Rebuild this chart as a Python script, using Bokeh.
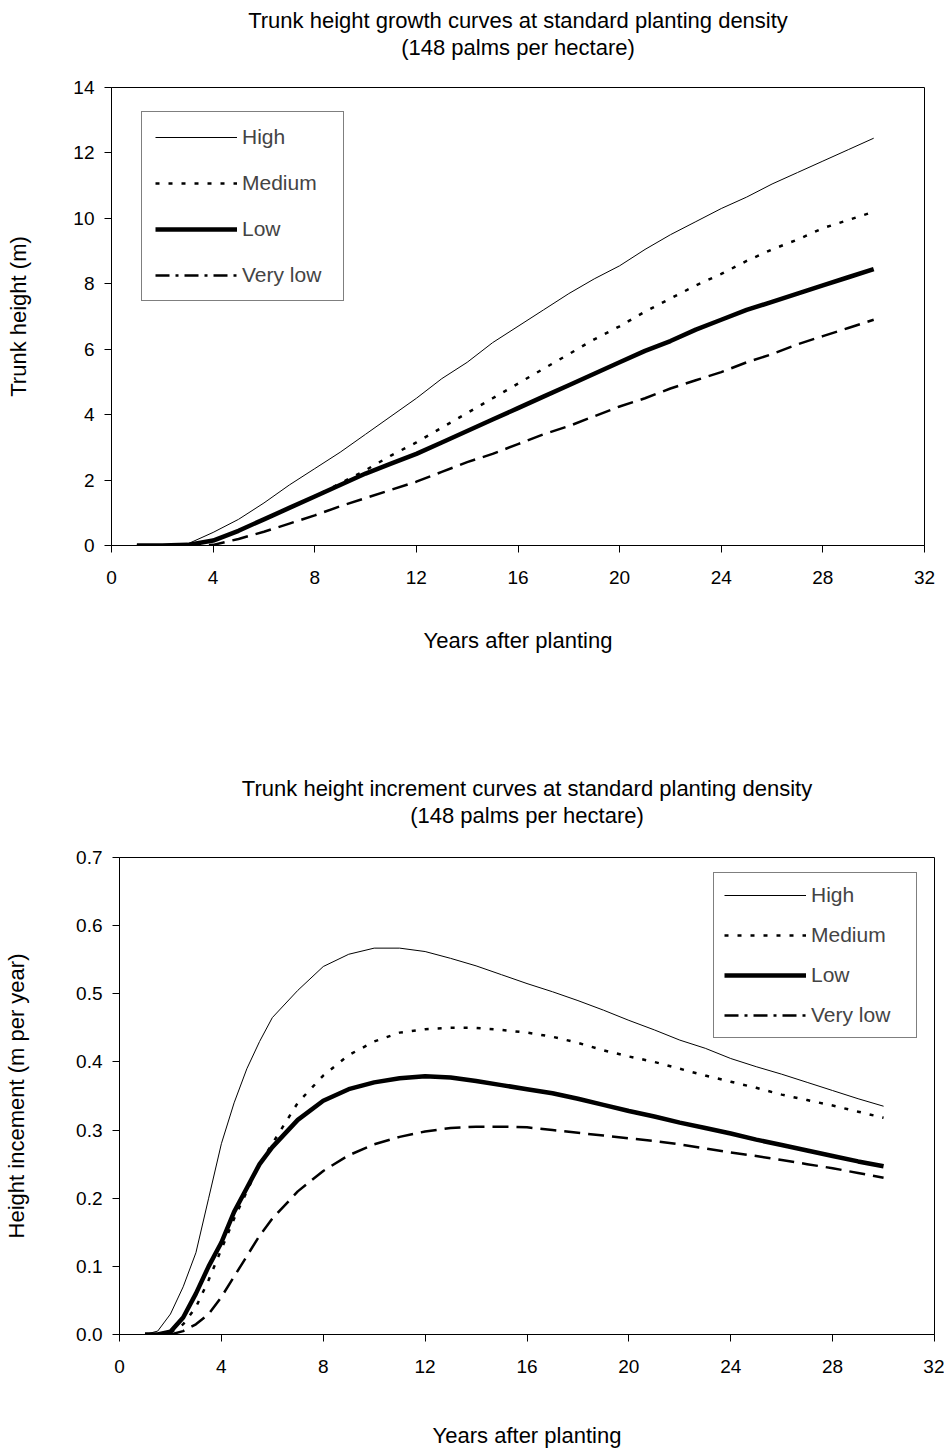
from bokeh.plotting import figure
from bokeh.models import Title, Legend, LegendItem, Range1d, FixedTicker, NumeralTickFormatter
from bokeh.embed import file_html
from bokeh.resources import INLINE

# ---------------- data: trunk height (m) ----------------
years_h = list(range(1, 31))
height_high = [0, 0, 0.05, 0.4, 0.8, 1.3, 1.85, 2.35, 2.85, 3.4, 3.95, 4.5, 5.1, 5.6, 6.2, 6.7,
               7.2, 7.7, 8.15, 8.55, 9.05, 9.5, 9.9, 10.3, 10.65, 11.05, 11.4, 11.75, 12.1, 12.45]
height_medium = [0, 0, 0.02, 0.15, 0.45, 0.8, 1.15, 1.5, 1.9, 2.3, 2.75, 3.15, 3.6, 4.05, 4.5, 4.95,
                 5.4, 5.85, 6.3, 6.7, 7.15, 7.55, 7.95, 8.3, 8.7, 9.05, 9.35, 9.7, 9.95, 10.2]
height_low = [0, 0, 0.02, 0.15, 0.45, 0.8, 1.15, 1.5, 1.85, 2.2, 2.5, 2.8, 3.15, 3.5, 3.85, 4.2,
              4.55, 4.9, 5.25, 5.6, 5.95, 6.25, 6.6, 6.9, 7.2, 7.45, 7.7, 7.95, 8.2, 8.45]
height_verylow = [0, 0, 0, 0.02, 0.2, 0.42, 0.67, 0.92, 1.2, 1.45, 1.7, 1.95, 2.25, 2.55, 2.8, 3.1,
                  3.4, 3.65, 3.95, 4.25, 4.5, 4.8, 5.05, 5.3, 5.6, 5.85, 6.15, 6.4, 6.65, 6.9]

# ---------------- data: height increment (m per year) ----------------
years_i = [1, 1.5, 2, 2.5, 3, 3.5, 4, 4.5, 5, 5.5, 6, 7, 8, 9, 10, 11, 12, 13, 14, 15, 16, 17, 18,
           19, 20, 21, 22, 23, 24, 25, 26, 27, 28, 29, 30]
inc_high = [0, 0.005, 0.03, 0.07, 0.12, 0.2, 0.28, 0.34, 0.39, 0.43, 0.465, 0.505, 0.54, 0.558,
            0.567, 0.567, 0.562, 0.552, 0.541, 0.528, 0.515, 0.503, 0.49, 0.476, 0.461, 0.447,
            0.432, 0.42, 0.405, 0.393, 0.382, 0.37, 0.358, 0.346, 0.335]
inc_medium = [0, 0, 0.003, 0.015, 0.04, 0.08, 0.125, 0.17, 0.21, 0.25, 0.28, 0.34, 0.38, 0.41,
              0.43, 0.443, 0.448, 0.45, 0.45, 0.447, 0.443, 0.437, 0.428, 0.417, 0.408, 0.4,
              0.39, 0.38, 0.371, 0.362, 0.352, 0.344, 0.336, 0.327, 0.318]
inc_low = [0, 0, 0.004, 0.025, 0.06, 0.1, 0.135, 0.18, 0.215, 0.25, 0.275, 0.315, 0.343, 0.36,
           0.37, 0.376, 0.379, 0.377, 0.372, 0.366, 0.36, 0.354, 0.346, 0.337, 0.328, 0.32,
           0.311, 0.303, 0.295, 0.286, 0.278, 0.27, 0.262, 0.254, 0.247]
inc_verylow = [0, 0, 0, 0.005, 0.015, 0.03, 0.055, 0.085, 0.115, 0.145, 0.17, 0.21, 0.24, 0.263,
               0.279, 0.29, 0.298, 0.303, 0.305, 0.305, 0.304, 0.3, 0.296, 0.292, 0.288, 0.284,
               0.279, 0.273, 0.267, 0.262, 0.256, 0.25, 0.244, 0.237, 0.23]

series_names = ["High", "Medium", "Low", "Very low"]
x_ticks = [0, 4, 8, 12, 16, 20, 24, 28, 32]
y_ticks_h = [0, 2, 4, 6, 8, 10, 12, 14]
y_ticks_i = [0, 0.1, 0.2, 0.3, 0.4, 0.5, 0.6, 0.7]
title_h = ["Trunk height growth curves at standard planting density", "(148 palms per hectare)"]
title_i = ["Trunk height increment curves at standard planting density", "(148 palms per hectare)"]

FONT = "Liberation Sans"
styles = {
    "High": dict(line_width=1, line_dash="solid"),
    "Medium": dict(line_width=2.5, line_dash="4 9"),
    "Low": dict(line_width=4.5, line_dash="solid"),
    "Very low": dict(line_width=2.5, line_dash="16 8"),
}
legend_verylow_style = dict(line_width=2.5, line_dash="14 6 3 6")
NAN = float("nan")


def make_fig(title_lines, ylabel, xs, ys_list, y_end, yticks, yfmt, borders, spacer,
             leg_pos, leg_pad, leg_spacing, leg_label_width, xlab_standoff, ylab_standoff):
    left, right, top, bottom = borders
    p = figure(width=944, height=725, output_backend="svg", toolbar_location=None,
               x_range=Range1d(0, 32), y_range=Range1d(0, y_end),
               min_border_left=left, min_border_right=right,
               min_border_top=top, min_border_bottom=bottom)
    # titles stack outward from the frame: spacer, second line, first line
    p.add_layout(Title(text=" ", standoff=spacer, text_font=FONT, text_font_size="22px"), "above")
    for txt in reversed(title_lines):
        p.add_layout(Title(text=txt, align="center", text_font=FONT, text_font_size="22px",
                           text_font_style="normal", text_color="black", standoff=0), "above")
    p.grid.visible = False
    p.outline_line_color = "black"
    p.outline_line_width = 1
    p.background_fill_color = "white"
    p.border_fill_color = "white"

    p.xaxis.ticker = FixedTicker(ticks=x_ticks)
    p.yaxis.ticker = FixedTicker(ticks=yticks)
    if yfmt:
        p.yaxis.formatter = NumeralTickFormatter(format=yfmt)
    for ax in (p.xaxis[0], p.yaxis[0]):
        ax.axis_line_color = "black"
        ax.major_tick_line_color = "black"
        ax.minor_tick_line_color = None
        ax.major_tick_in = 0
        ax.major_tick_out = 7
        ax.major_label_text_font = FONT
        ax.major_label_text_font_size = "19px"
        ax.major_label_text_color = "black"
        ax.axis_label_text_font = FONT
        ax.axis_label_text_font_size = "22px"
        ax.axis_label_text_font_style = "normal"
        ax.axis_label_text_color = "black"
    p.xaxis.axis_label = "Years after planting"
    p.yaxis.axis_label = ylabel
    p.xaxis.major_label_standoff = 18
    p.yaxis.major_label_standoff = 10
    p.xaxis.axis_label_standoff = xlab_standoff
    p.yaxis.axis_label_standoff = ylab_standoff

    items = []
    for name, ys in zip(series_names, ys_list):
        r = p.line(xs, ys, line_color="black", **styles[name])
        if name == "Very low":
            r = p.line([NAN], [NAN], line_color="black", **legend_verylow_style)
        items.append(LegendItem(label=name, renderers=[r]))
    leg = Legend(items=items, location=leg_pos, padding=leg_pad,
                 spacing=leg_spacing, glyph_width=82, glyph_height=24, label_height=24,
                 label_width=leg_label_width,
                 label_standoff=5, label_text_font=FONT, label_text_font_size="21px",
                 border_line_color="black", border_line_width=1,
                 background_fill_color="white", background_fill_alpha=1)
    p.add_layout(leg)
    return p


p1 = make_fig(title_h, "Trunk height (m)", years_h,
              [height_high, height_medium, height_low, height_verylow], 14, y_ticks_h, None,
              (111, 20, 87, 180), 1, (30, 244), 13, 22, 88, 41, 39)
p2 = make_fig(title_i, "Height incement (m per year)", years_i,
              [inc_high, inc_medium, inc_low, inc_verylow], 0.7, y_ticks_i, "0.0",
              (119, 10, 132, 115), 3, (594, 296), 10, 16, 95, 47, 44)

open("out.html", "w").write(file_html([p1, p2], INLINE))
